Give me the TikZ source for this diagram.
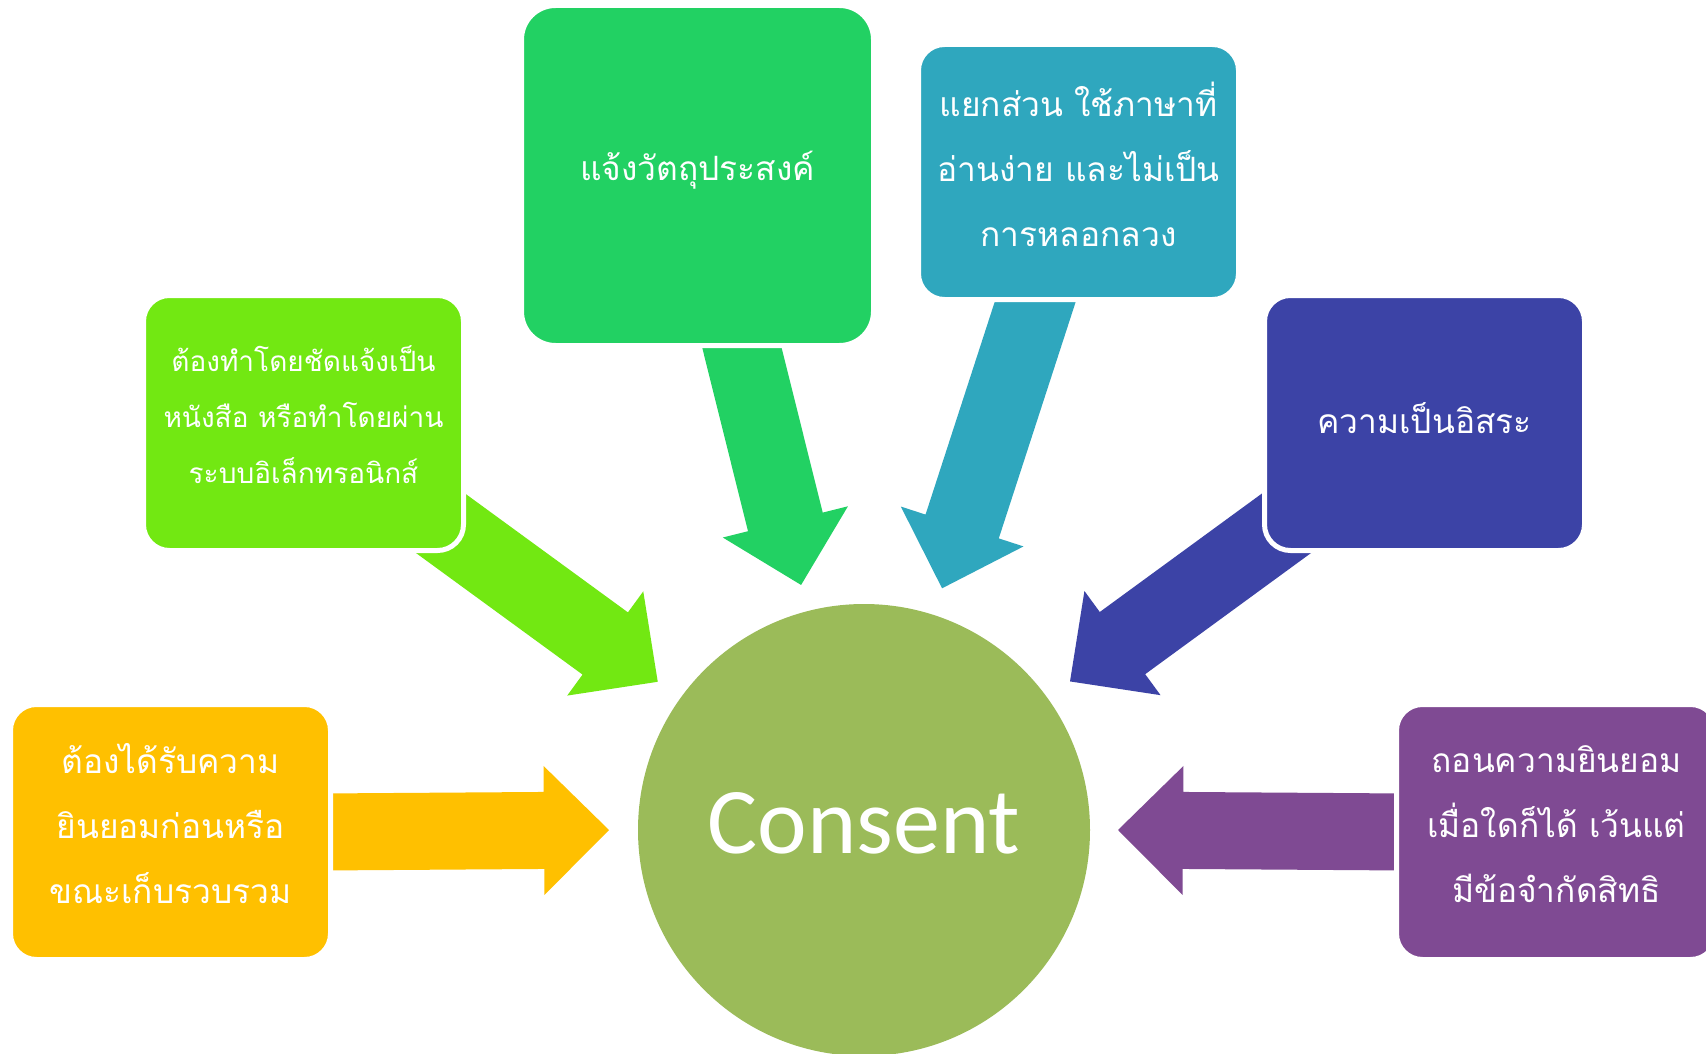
\documentclass[tikz,border=0pt]{standalone}
\usepackage{fontspec}
\usepackage{tikz}
\usetikzlibrary{calc,backgrounds}
\newfontfamily\thaifont[Script=Thai]{Loma}
\newfontfamily\latinfont{Carlito}
\definecolor{ygold}{HTML}{FFC000}
\definecolor{ylime}{HTML}{72E812}
\definecolor{ygreen}{HTML}{22D163}
\definecolor{yteal}{HTML}{2FA7BE}
\definecolor{ynavy}{HTML}{3C43A6}
\definecolor{ypurple}{HTML}{7F4A93}
\definecolor{yolive}{HTML}{9BBB59}
% block arrow from tail #1 to tip #2
\newcommand{\fatarrow}[3]{%
	\coordinate (hb) at ($(#2)!65pt!(#1)$);
	\fill[#3] ($(#1)!38.5pt!90:(#2)$) -- ($(hb)!38.5pt!90:(#2)$) -- ($(hb)!64.5pt!90:(#2)$) -- (#2)
		-- ($(hb)!64.5pt!-90:(#2)$) -- ($(hb)!38.5pt!-90:(#2)$) -- ($(#1)!38.5pt!-90:(#2)$) -- cycle;
}

\begin{document}
\begin{tikzpicture}[x=1pt,y=-1pt,
	box/.style={rectangle, rounded corners=26pt, draw=white, line width=5pt, outer sep=0pt,
		minimum width=320pt, minimum height=255pt},
	boxtext/.style={align=center, text=white, yshift=8pt, inner sep=0pt,
		font=\thaifont\fontsize{33.5}{65}\selectfont}]
		\useasboundingbox (0,0) rectangle (1706,1054);
		\node[circle, fill=yolive, minimum size=452pt, inner sep=0pt, text=white,
			font=\latinfont\fontsize{94}{100}\selectfont] (consent) at (864,830) {\raisebox{14pt}{Consent}};
		\node[box, fill=ygold, label={[boxtext]center:{ต้องได้รับความ\\ยินยอมก่อนหรือ\\ขณะเก็บรวบรวม}}] (gold) at (170.5,832) {};
		\node[box, fill=ylime, label={[boxtext, font=\thaifont\fontsize{28}{56}\selectfont]center:{ต้องทำโดยชัดแจ้งเป็น\\หนังสือ หรือทำโดยผ่าน\\ระบบอิเล็กทรอนิกส์}}] (lime) at (303.5,423) {};
		\node[box, fill=ygreen, rounded corners=34pt, minimum width=352pt, minimum height=340pt,
			label={[boxtext, yshift=-3pt]center:{แจ้งวัตถุประสงค์}}] (green) at (697.5,175.5) {};
		\node[box, fill=yteal, label={[boxtext]center:{แยกส่วน ใช้ภาษาที่\\อ่านง่าย และไม่เป็น\\การหลอกลวง}}] (teal) at (1078.5,172) {};
		\node[box, fill=ynavy, label={[boxtext, yshift=-3pt]center:{ความเป็นอิสระ}}] (navy) at (1424.5,423) {};
		\node[box, fill=ypurple, label={[boxtext]center:{ถอนความยินยอม\\เมื่อใดก็ได้ เว้นแต่\\มีข้อจำกัดสิทธิ}}] (purple) at (1556.5,832) {};
		\begin{scope}[on background layer]
			\fill[white] (0,0) rectangle (1706,1054);
			\coordinate (goldTail) at ($(gold.east)+(-10,0)$);
			\coordinate (limeTail) at ($(lime.south east)+(-29.5,-32)$);
			\coordinate (greenTail) at ($(green.south)+(39.5,-17.5)$);
			\coordinate (tealTail) at ($(teal.south)+(-37.5,-15.5)$);
			\coordinate (navyTail) at ($(navy.south west)+(28.5,-32)$);
			\coordinate (purpleTail) at ($(purple.west)+(10,0)$);
			\coordinate (goldTip) at ($(consent.center)+(180:255)$);
			\coordinate (limeTip) at ($(consent.center)+(215.7:254)$);
			\coordinate (greenTip) at ($(consent.center)+(255.6:253)$);
			\coordinate (tealTip) at ($(consent.center)+(287.9:254)$);
			\coordinate (navyTip) at ($(consent.center)+(324.2:254)$);
			\coordinate (purpleTip) at ($(consent.center)+(0:254)$);
			\fatarrow{goldTail}{goldTip}{ygold}
			\fatarrow{limeTail}{limeTip}{ylime}
			\fatarrow{greenTail}{greenTip}{ygreen}
			\fatarrow{tealTail}{tealTip}{yteal}
			\fatarrow{navyTail}{navyTip}{ynavy}
			\fatarrow{purpleTail}{purpleTip}{ypurple}
		\end{scope}
	\end{tikzpicture}
\end{document}
